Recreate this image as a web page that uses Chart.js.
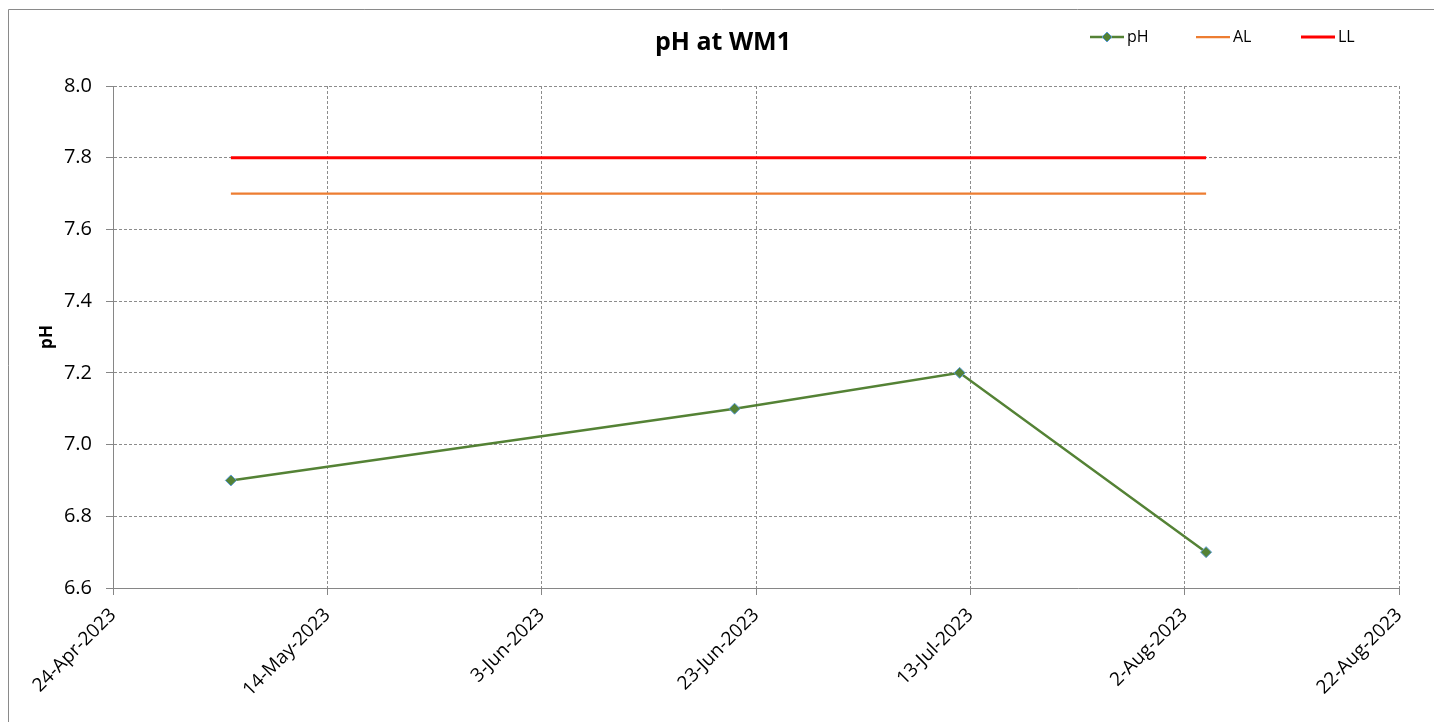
<!DOCTYPE html>
<html>
<head>
<meta charset="utf-8">
<title>pH at WM1</title>
<script src="https://cdn.jsdelivr.net/npm/chart.js@4.4.1/dist/chart.umd.min.js"></script>
<style>
  html, body { margin: 0; padding: 0; background: #fff; }
  #wrap { position: relative; width: 1434px; height: 722px; }
</style>
</head>
<body>
<div id="wrap"><canvas id="chart"></canvas></div>
<script>
// sample data
const sampleDates = ["2023-05-05", "2023-06-21", "2023-07-12", "2023-08-04"];
const phValues = [6.9, 7.1, 7.2, 6.7];

// limit lines span the sampling period
const limitDates = ["2023-05-05", "2023-08-04"];
const alValues = [7.7, 7.7];
const llValues = [7.8, 7.8];

const xTickDates = ["2023-04-24", "2023-05-14", "2023-06-03", "2023-06-23", "2023-07-13", "2023-08-02", "2023-08-22"];
const yTicks = [6.6, 6.8, 7.0, 7.2, 7.4, 7.6, 7.8, 8.0];

const MONTHS = ["Jan", "Feb", "Mar", "Apr", "May", "Jun", "Jul", "Aug", "Sep", "Oct", "Nov", "Dec"];
const FONT = "'Open Sans', 'Noto Sans', sans-serif";

function dayNum(iso) {
  const [y, m, d] = iso.split("-").map(Number);
  return Date.UTC(y, m - 1, d) / 86400000;
}

function fmtDay(n) {
  const dt = new Date(Math.round(n) * 86400000);
  return dt.getUTCDate() + "-" + MONTHS[dt.getUTCMonth()] + "-" + dt.getUTCFullYear();
}

const toPoints = (dates, vals) => dates.map((d, i) => ({ x: dayNum(d), y: vals[i] }));

const GREEN = "#548235";
const ORANGE = "#ED7D31";
const RED = "#FF0000";
const GRID = "#8c8c8c";
const AXIS = "#868686";

// title, legend and outer frame drawn by hand to keep Excel-like placement
const decorations = {
  id: "decorations",
  beforeDraw(chart) {
    const ctx = chart.ctx;
    ctx.save();
    ctx.strokeStyle = "#8a8a8a";
    ctx.lineWidth = 1;
    ctx.beginPath();
    ctx.moveTo(8.5, 722);
    ctx.lineTo(8.5, 9.5);
    ctx.lineTo(1434, 9.5);
    ctx.stroke();
    ctx.restore();
  },
  afterDraw(chart) {
    const ctx = chart.ctx;
    ctx.save();
    ctx.fillStyle = "#000";
    ctx.font = "bold 25px " + FONT;
    ctx.textAlign = "center";
    ctx.textBaseline = "middle";
    ctx.fillText("pH at WM1", 723, 43);

    const items = [
      { ds: chart.data.datasets[0], x: 1090 },
      { ds: chart.data.datasets[1], x: 1196 },
      { ds: chart.data.datasets[2], x: 1301 }
    ];
    const y = 37;
    ctx.font = "16px " + FONT;
    ctx.textAlign = "left";
    items.forEach(({ ds, x }) => {
      ctx.strokeStyle = ds.borderColor;
      ctx.lineWidth = ds.borderWidth;
      ctx.beginPath();
      ctx.moveTo(x, y);
      ctx.lineTo(x + 34, y);
      ctx.stroke();
      if (ds.pointRadius > 0) {
        const cx = x + 17, r = 5;
        ctx.fillStyle = ds.pointBackgroundColor;
        ctx.strokeStyle = ds.pointBorderColor;
        ctx.lineWidth = 1;
        ctx.beginPath();
        ctx.moveTo(cx, y - r);
        ctx.lineTo(cx + r, y);
        ctx.lineTo(cx, y + r);
        ctx.lineTo(cx - r, y);
        ctx.closePath();
        ctx.fill();
        ctx.stroke();
      }
      ctx.fillStyle = "#000";
      ctx.fillText(ds.label, x + 37, y);
    });
    ctx.restore();
  }
};

new Chart(document.getElementById("chart"), {
  type: "line",
  data: {
    datasets: [
      {
        label: "pH",
        data: toPoints(sampleDates, phValues),
        borderColor: GREEN,
        borderWidth: 2.5,
        pointStyle: "rectRot",
        pointRadius: 5.5,
        pointHoverRadius: 5.5,
        pointBackgroundColor: GREEN,
        pointBorderColor: "#5B9BD5",
        pointBorderWidth: 1
      },
      {
        label: "AL",
        data: toPoints(limitDates, alValues),
        borderColor: ORANGE,
        borderWidth: 2.25,
        pointRadius: 0
      },
      {
        label: "LL",
        data: toPoints(limitDates, llValues),
        borderColor: RED,
        borderWidth: 3,
        pointRadius: 0
      }
    ]
  },
  options: {
    responsive: true,
    maintainAspectRatio: false,
    animation: false,
    layout: { padding: { top: 86, right: 35, left: 0, bottom: 0 } },
    plugins: {
      legend: { display: false },
      title: { display: false },
      tooltip: { enabled: false }
    },
    scales: {
      x: {
        type: "linear",
        min: dayNum(xTickDates[0]),
        max: dayNum(xTickDates[xTickDates.length - 1]),
        afterBuildTicks: (scale) => {
          scale.ticks = xTickDates.map((d) => ({ value: dayNum(d) }));
        },
        afterFit: (scale) => { scale.height = 134; },
        grid: { color: GRID, tickColor: AXIS, tickLength: 7, tickBorderDash: [] },
        border: { color: AXIS, width: 1, dash: [3, 2] },
        ticks: {
          minRotation: 45,
          maxRotation: 45,
          padding: 9,
          color: "#000",
          font: { family: FONT, size: 19 },
          callback: (v) => fmtDay(v)
        }
      },
      y: {
        min: yTicks[0],
        max: yTicks[yTicks.length - 1],
        afterBuildTicks: (scale) => {
          scale.ticks = yTicks.map((v) => ({ value: v }));
        },
        afterFit: (scale) => { scale.width = 113; },
        grid: { color: GRID, tickColor: AXIS, tickLength: 7, tickBorderDash: [] },
        border: { color: AXIS, width: 1, dash: [3, 2] },
        title: {
          display: true,
          text: "pH",
          color: "#000",
          font: { family: FONT, size: 17, weight: "bold" },
          padding: { top: 37, bottom: 0 }
        },
        ticks: {
          padding: 14,
          color: "#000",
          font: { family: FONT, size: 20 },
          callback: (v) => v.toFixed(1)
        }
      }
    }
  },
  plugins: [decorations]
});
</script>
</body>
</html>
